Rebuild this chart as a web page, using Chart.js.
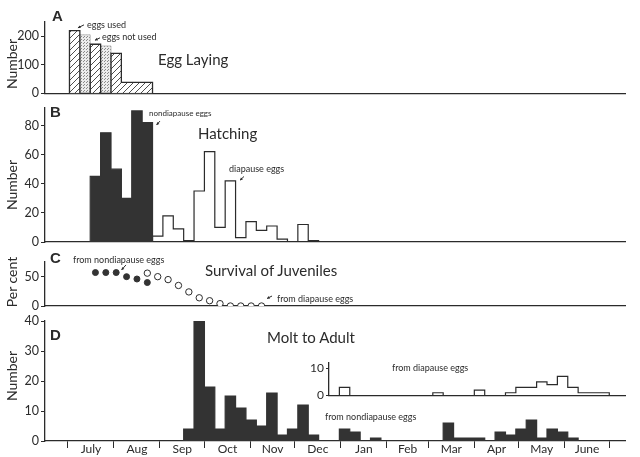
<!DOCTYPE html>
<html>
<head>
<meta charset="utf-8">
<script src="https://cdn.jsdelivr.net/npm/chart.js@4.4.0/dist/chart.umd.min.js"></script>
<style>
  body { margin: 0; background: #fff; }
  #fig { position: relative; width: 640px; height: 457px; overflow: hidden;
         font-family: Lato, "Noto Sans", sans-serif; color: #2b2b2b; }
  #fig canvas { position: absolute; }
  .t { position: absolute; white-space: nowrap; line-height: 1; transform: translateY(-50%); }
  .letter { font: bold 15px "Liberation Sans", Arial, sans-serif; }
  .title { font-size: 15px; }
  .note { font-size: 9px; }
  .ytitle { font-size: 14px; transform: translate(-50%, -50%) rotate(-90deg); }
</style>
</head>
<body>
<div id="fig">
  <canvas id="cA" width="640" height="106" style="left:0;top:0"></canvas>
  <canvas id="cB" width="640" height="156" style="left:0;top:98px"></canvas>
  <canvas id="cC" width="640" height="66" style="left:0;top:250px"></canvas>
  <canvas id="cD" width="640" height="146" style="left:0;top:311px"></canvas>
  <canvas id="cI" width="350" height="56" style="left:290px;top:350px"></canvas>

  <div class="t letter" style="left:52px;top:15px">A</div>
  <div class="t note" style="left:87px;top:24px">eggs used</div>
  <div class="t note" style="left:102px;top:36px">eggs not used</div>
  <div class="t title" style="left:158px;top:59px">Egg Laying</div>
  <div class="t ytitle" style="left:12px;top:64px">Number</div>

  <div class="t letter" style="left:50px;top:111px">B</div>
  <div class="t note" style="left:149px;top:113px;font-size:8px">nondiapause eggs</div>
  <div class="t title" style="left:198px;top:133px">Hatching</div>
  <div class="t note" style="left:229px;top:168px">diapause eggs</div>
  <div class="t ytitle" style="left:12px;top:185px">Number</div>

  <div class="t letter" style="left:50px;top:257px">C</div>
  <div class="t note" style="left:73px;top:259px">from nondiapause eggs</div>
  <div class="t title" style="left:205px;top:270px">Survival of Juveniles</div>
  <div class="t note" style="left:277px;top:298px">from diapause eggs</div>
  <div class="t ytitle" style="left:12px;top:282px">Per cent</div>

  <div class="t letter" style="left:50px;top:334px">D</div>
  <div class="t title" style="left:267px;top:337px">Molt to Adult</div>
  <div class="t note" style="left:392px;top:367px">from diapause eggs</div>
  <div class="t note" style="left:325px;top:416px">from nondiapause eggs</div>
  <div class="t ytitle" style="left:12px;top:376px">Number</div>
</div>
<script>
// x axis is days since 1 July; counts are weekly bins starting 2 July
const binStartDay = 1;
const monthNames = ['July', 'Aug', 'Sep', 'Oct', 'Nov', 'Dec', 'Jan', 'Feb', 'Mar', 'Apr', 'May', 'June'];
const monthStarts = [0, 31, 62, 92, 123, 153, 184, 215, 243, 274, 304, 335, 365];

// A - egg laying (from week 0)
const eggWeek = 0;
const eggsUsed = [220, 0, 172, 0, 140, 38, 38, 38];
const eggsNotUsed = [0, 205, 0, 166, 0, 0, 0, 0];
const eggTicks = [0, 100, 200];

// B - hatching
const hatchNondiapauseWeek = 2;
const hatchNondiapause = [45, 75, 50, 30, 90, 82];
const hatchDiapauseWeek = 8;
const hatchDiapause = [4, 18, 9, 1, 35, 62, 10, 42, 3, 14, 8, 11, 2, 0, 12, 1];
const hatchTicks = [0, 20, 40, 60, 80];

// C - survival of juveniles, percent
const survNondiapauseWeek = 2;
const survNondiapause = [57, 57, 57, 50, 46, 40];
const survDiapauseWeek = 7;
const survDiapause = [56, 50, 45, 35, 24, 14, 9, 4, 0, 0, 0, 0];
const survTicks = [0, 50];

// D - molt to adult
const moltNondiapauseWeek = 11;
const moltNondiapause = [4, 40, 18, 4, 15, 11, 7, 5, 16, 2, 4, 12, 2, 0, 0, 4, 3, 0, 1,
  0, 0, 0, 0, 0, 0, 6, 1, 1, 1, 0, 3, 2, 4, 7, 1, 4, 3, 1];
const moltDiapauseWeek = 26;
const moltDiapause = [3, 0, 0, 0, 0, 0, 0, 0, 0, 1, 0, 0, 0, 2, 0, 0, 1, 3, 3, 5, 4, 7, 3, 1, 1, 1];
const moltTicks = [0, 10, 20, 30, 40];
const insetTicks = [0, 10];

const INK = '#2b2b2b';
const DARK = '#333333';
const X_MIN = -15.5, X_MAX = 375.6, INSET_X_MIN = 176;

Chart.defaults.font.family = 'Lato, "Noto Sans", sans-serif';
Chart.defaults.font.size = 12.5;
Chart.defaults.color = INK;

const weekDay = w => binStartDay + 7 * w;

function histogram(firstWeek, counts) {
  const pts = [{ x: weekDay(firstWeek), y: 0 }];
  counts.forEach((c, i) => pts.push({ x: weekDay(firstWeek + i), y: c }));
  pts.push({ x: weekDay(firstWeek + counts.length), y: 0 });
  return pts;
}

function dots(firstWeek, values) {
  return values.map((v, i) => ({ x: weekDay(firstWeek + i) + 3.5, y: v }));
}

function makePattern(size, draw) {
  const c = document.createElement('canvas');
  c.width = c.height = size;
  const g = c.getContext('2d');
  draw(g);
  return g.createPattern(c, 'repeat');
}

const hatchFill = makePattern(6, g => {
  g.strokeStyle = '#3a3a3a';
  g.lineWidth = 0.9;
  g.beginPath();
  g.moveTo(0, 6); g.lineTo(6, 0);
  g.moveTo(-1, 1); g.lineTo(1, -1);
  g.moveTo(5, 7); g.lineTo(7, 5);
  g.stroke();
});

const dotFill = makePattern(3, g => {
  g.fillStyle = '#ececec';
  g.fillRect(0, 0, 3, 3);
  g.fillStyle = '#8a8a8a';
  g.fillRect(0, 0, 1, 1);
  g.fillRect(2, 1, 1, 1);
});

// small arrows that point from a note to its mark, in data coordinates
const arrowPlugin = {
  id: 'arrows',
  afterDatasetsDraw(chart, args, opts) {
    const { ctx, scales: { x, y } } = chart;
    (opts.list || []).forEach(([x1, y1, x2, y2]) => {
      const ax = x.getPixelForValue(x1), ay = y.getPixelForValue(y1);
      const bx = x.getPixelForValue(x2), by = y.getPixelForValue(y2);
      const a = Math.atan2(by - ay, bx - ax);
      ctx.save();
      ctx.strokeStyle = INK;
      ctx.fillStyle = INK;
      ctx.lineWidth = 1;
      ctx.beginPath();
      ctx.moveTo(ax, ay);
      ctx.lineTo(bx, by);
      ctx.stroke();
      ctx.beginPath();
      ctx.moveTo(bx, by);
      ctx.lineTo(bx - 3 * Math.cos(a - 0.5), by - 3 * Math.sin(a - 0.5));
      ctx.lineTo(bx - 3 * Math.cos(a + 0.5), by - 3 * Math.sin(a + 0.5));
      ctx.closePath();
      ctx.fill();
      ctx.restore();
    });
  }
};
Chart.register(arrowPlugin);

function yAxis(ticks, max, width) {
  return {
    min: 0,
    max,
    afterFit: s => { s.width = width; },
    afterBuildTicks: s => { s.ticks = ticks.map(v => ({ value: v })); },
    grid: { drawOnChartArea: false, tickLength: 4, color: INK, lineWidth: 1 },
    border: { color: INK, width: 1.3 },
    ticks: { padding: 2 }
  };
}

function plainX(min, height) {
  return {
    type: 'linear',
    min,
    max: X_MAX,
    afterFit: s => { s.height = height; },
    ticks: { display: false },
    grid: { display: false },
    border: { color: INK, width: 1.3 }
  };
}

const monthMids = monthNames.map((_, i) => (monthStarts[i] + monthStarts[i + 1]) / 2);
const tickInk = ctx => (ctx.tick && monthStarts.includes(ctx.tick.value)) ? INK : 'rgba(0,0,0,0)';

function options(padding, x, y, arrows) {
  return {
    responsive: false,
    animation: false,
    events: [],
    layout: { padding },
    plugins: { legend: { display: false }, tooltip: { enabled: false }, arrows: { list: arrows || [] } },
    scales: { x, y },
    elements: { point: { radius: 0 }, line: { tension: 0 } }
  };
}

function stepSet(data, extra) {
  return Object.assign({ data, stepped: true, pointRadius: 0, borderColor: INK, borderWidth: 1.2 }, extra);
}

// A
new Chart(document.getElementById('cA'), {
  type: 'line',
  data: {
    datasets: [
      stepSet(histogram(eggWeek, eggsUsed), { fill: 'origin', backgroundColor: hatchFill, borderWidth: 1.3 }),
      stepSet(histogram(eggWeek, eggsNotUsed), { fill: 'origin', backgroundColor: dotFill, borderColor: '#b0b0b0', borderWidth: 0.8 })
    ]
  },
  options: options({ top: 22, right: 15 }, plainX(X_MIN, 12.7), yAxis(eggTicks, 250, 45),
    [[10.8, 240, 6.7, 229.5], [21.6, 194.6, 18.2, 186]])
});

// B
new Chart(document.getElementById('cB'), {
  type: 'line',
  data: {
    datasets: [
      stepSet(histogram(hatchNondiapauseWeek, hatchNondiapause), { fill: 'origin', backgroundColor: DARK, borderColor: DARK }),
      stepSet(histogram(hatchDiapauseWeek, hatchDiapause), { fill: false })
    ]
  },
  options: options({ top: 10, right: 15 }, plainX(X_MIN, 12), yAxis(hatchTicks, 92, 45),
    [[62, 83, 59.7, 80.3], [118.7, 45, 116, 42.4]])
});

// C
new Chart(document.getElementById('cC'), {
  type: 'line',
  data: {
    datasets: [
      { data: dots(survNondiapauseWeek, survNondiapause), showLine: false, pointRadius: 3,
        pointBackgroundColor: DARK, pointBorderColor: DARK, pointBorderWidth: 1 },
      { data: dots(survDiapauseWeek, survDiapause), showLine: false, pointRadius: 3.2,
        pointBackgroundColor: '#fff', pointBorderColor: INK, pointBorderWidth: 1 }
    ]
  },
  options: options({ top: 12, right: 15 }, plainX(X_MIN, 10), yAxis(survTicks, 75, 45),
    [[39.1, 70, 36.1, 61.4], [137.6, 17, 134.2, 12.8]])
});

// D
const monthAxis = plainX(X_MIN, 16);
Object.assign(monthAxis, {
  afterBuildTicks: s => {
    s.ticks = monthStarts.concat(monthMids).sort((a, b) => a - b).map(v => ({ value: v }));
  },
  grid: { display: true, drawOnChartArea: false, tickLength: 7, color: tickInk, tickColor: tickInk, lineWidth: 1 },
  ticks: {
    display: true, autoSkip: false, maxRotation: 0, padding: -6, font: { size: 12 },
    callback: v => { const i = monthMids.indexOf(v); return i < 0 ? '' : monthNames[i]; }
  }
});
new Chart(document.getElementById('cD'), {
  type: 'line',
  data: {
    datasets: [
      stepSet(histogram(moltNondiapauseWeek, moltNondiapause), { fill: 'origin', backgroundColor: DARK, borderColor: DARK })
    ]
  },
  options: options({ top: 10, right: 15 }, monthAxis, yAxis(moltTicks, 40, 45))
});

// D inset - from diapause eggs
const insetY = yAxis(insetTicks, 12, 39);
insetY.grid.tickLength = 3;
insetY.ticks.font = { size: 12 };
new Chart(document.getElementById('cI'), {
  type: 'line',
  data: { datasets: [stepSet(histogram(moltDiapauseWeek, moltDiapause), { fill: false })] },
  options: options({ top: 12.7, right: 15 }, plainX(INSET_X_MIN, 10.5), insetY)
});
</script>
</body>
</html>
